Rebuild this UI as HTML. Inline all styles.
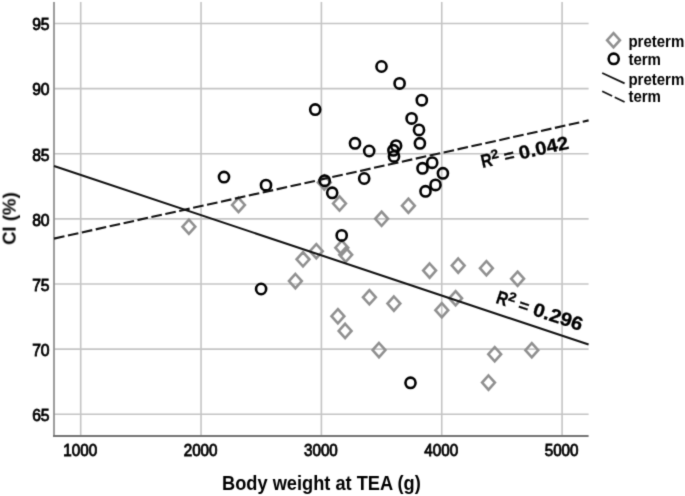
<!DOCTYPE html>
<html><head><meta charset="utf-8"><style>
html,body{margin:0;padding:0;background:#fff;}
body{width:685px;height:496px;overflow:hidden;font-family:"Liberation Sans",sans-serif;}
svg{display:block;}
</style></head><body>
<svg width="685" height="496" viewBox="0 0 685 496">
<defs><filter id="bl" x="0" y="0" width="685" height="496" filterUnits="userSpaceOnUse" color-interpolation-filters="sRGB"><feConvolveMatrix order="3" kernelMatrix="0.01917 0.10012 0.01917 0.10012 0.52283 0.10012 0.01917 0.10012 0.01917" divisor="1" edgeMode="duplicate"/></filter></defs>
<g filter="url(#bl)">
<rect width="685" height="496" fill="#fff"/>
<line x1="80.70" y1="2.0" x2="80.70" y2="435.5" stroke="#c4c4c4" stroke-width="1.6"/>
<line x1="201.05" y1="2.0" x2="201.05" y2="435.5" stroke="#c4c4c4" stroke-width="1.6"/>
<line x1="321.40" y1="2.0" x2="321.40" y2="435.5" stroke="#c4c4c4" stroke-width="1.6"/>
<line x1="441.75" y1="2.0" x2="441.75" y2="435.5" stroke="#c4c4c4" stroke-width="1.6"/>
<line x1="562.10" y1="2.0" x2="562.10" y2="435.5" stroke="#c4c4c4" stroke-width="1.6"/>
<line x1="54.0" y1="414.22" x2="588.6" y2="414.22" stroke="#c4c4c4" stroke-width="1.6"/>
<line x1="54.0" y1="349.10" x2="588.6" y2="349.10" stroke="#c4c4c4" stroke-width="1.6"/>
<line x1="54.0" y1="283.98" x2="588.6" y2="283.98" stroke="#c4c4c4" stroke-width="1.6"/>
<line x1="54.0" y1="218.86" x2="588.6" y2="218.86" stroke="#c4c4c4" stroke-width="1.6"/>
<line x1="54.0" y1="153.74" x2="588.6" y2="153.74" stroke="#c4c4c4" stroke-width="1.6"/>
<line x1="54.0" y1="88.62" x2="588.6" y2="88.62" stroke="#c4c4c4" stroke-width="1.6"/>
<line x1="54.0" y1="23.50" x2="588.6" y2="23.50" stroke="#c4c4c4" stroke-width="1.6"/>
<line x1="54.0" y1="2.0" x2="54.0" y2="436.5" stroke="#8e8e8e" stroke-width="1.75"/>
<line x1="53.0" y1="436.0" x2="588.6" y2="436.0" stroke="#747474" stroke-width="2.0"/>
<path d="M188.9 219.6L195.3 226.7L188.9 233.8L182.5 226.7Z" fill="none" stroke="#909090" stroke-width="2.6"/>
<path d="M238.5 197.8L244.9 204.9L238.5 212.0L232.1 204.9Z" fill="none" stroke="#909090" stroke-width="2.6"/>
<path d="M324.3 175.4L330.7 182.5L324.3 189.6L317.9 182.5Z" fill="none" stroke="#909090" stroke-width="2.6"/>
<path d="M303.0 252.2L309.4 259.3L303.0 266.4L296.6 259.3Z" fill="none" stroke="#909090" stroke-width="2.6"/>
<path d="M316.3 244.1L322.7 251.2L316.3 258.3L309.9 251.2Z" fill="none" stroke="#909090" stroke-width="2.6"/>
<path d="M295.4 274.0L301.8 281.1L295.4 288.2L289.0 281.1Z" fill="none" stroke="#909090" stroke-width="2.6"/>
<path d="M341.8 240.6L348.2 247.7L341.8 254.8L335.4 247.7Z" fill="none" stroke="#909090" stroke-width="2.6"/>
<path d="M345.7 247.7L352.1 254.8L345.7 261.9L339.3 254.8Z" fill="none" stroke="#909090" stroke-width="2.6"/>
<path d="M339.5 196.4L345.9 203.5L339.5 210.6L333.1 203.5Z" fill="none" stroke="#909090" stroke-width="2.6"/>
<path d="M337.9 309.1L344.3 316.2L337.9 323.3L331.5 316.2Z" fill="none" stroke="#909090" stroke-width="2.6"/>
<path d="M345.1 323.8L351.5 330.9L345.1 338.0L338.7 330.9Z" fill="none" stroke="#909090" stroke-width="2.6"/>
<path d="M369.4 290.2L375.8 297.3L369.4 304.4L363.0 297.3Z" fill="none" stroke="#909090" stroke-width="2.6"/>
<path d="M379.0 343.0L385.4 350.1L379.0 357.2L372.6 350.1Z" fill="none" stroke="#909090" stroke-width="2.6"/>
<path d="M381.6 211.7L388.0 218.8L381.6 225.9L375.2 218.8Z" fill="none" stroke="#909090" stroke-width="2.6"/>
<path d="M408.4 198.6L414.8 205.7L408.4 212.8L402.0 205.7Z" fill="none" stroke="#909090" stroke-width="2.6"/>
<path d="M393.9 296.5L400.3 303.6L393.9 310.7L387.5 303.6Z" fill="none" stroke="#909090" stroke-width="2.6"/>
<path d="M429.6 263.5L436.0 270.6L429.6 277.7L423.2 270.6Z" fill="none" stroke="#909090" stroke-width="2.6"/>
<path d="M441.8 303.1L448.2 310.2L441.8 317.3L435.4 310.2Z" fill="none" stroke="#909090" stroke-width="2.6"/>
<path d="M455.6 291.2L462.0 298.3L455.6 305.4L449.2 298.3Z" fill="none" stroke="#909090" stroke-width="2.6"/>
<path d="M458.2 258.5L464.6 265.6L458.2 272.7L451.8 265.6Z" fill="none" stroke="#909090" stroke-width="2.6"/>
<path d="M486.4 261.1L492.8 268.2L486.4 275.3L480.0 268.2Z" fill="none" stroke="#909090" stroke-width="2.6"/>
<path d="M517.6 271.6L524.0 278.7L517.6 285.8L511.2 278.7Z" fill="none" stroke="#909090" stroke-width="2.6"/>
<path d="M494.7 347.1L501.1 354.2L494.7 361.3L488.3 354.2Z" fill="none" stroke="#909090" stroke-width="2.6"/>
<path d="M531.8 343.1L538.2 350.2L531.8 357.3L525.4 350.2Z" fill="none" stroke="#909090" stroke-width="2.6"/>
<path d="M488.5 375.5L494.9 382.6L488.5 389.7L482.1 382.6Z" fill="none" stroke="#909090" stroke-width="2.6"/>
<ellipse cx="224.0" cy="177.1" rx="5.05" ry="5.2" fill="none" stroke="#000" stroke-width="2.6"/>
<ellipse cx="266.0" cy="185.2" rx="5.05" ry="5.2" fill="none" stroke="#000" stroke-width="2.6"/>
<ellipse cx="315.2" cy="109.6" rx="5.05" ry="5.2" fill="none" stroke="#000" stroke-width="2.6"/>
<ellipse cx="355.0" cy="143.3" rx="5.05" ry="5.2" fill="none" stroke="#000" stroke-width="2.6"/>
<ellipse cx="369.2" cy="151.0" rx="5.05" ry="5.2" fill="none" stroke="#000" stroke-width="2.6"/>
<ellipse cx="364.2" cy="178.5" rx="5.05" ry="5.2" fill="none" stroke="#000" stroke-width="2.6"/>
<ellipse cx="324.7" cy="180.7" rx="5.05" ry="5.2" fill="none" stroke="#000" stroke-width="2.6"/>
<ellipse cx="332.2" cy="192.8" rx="5.05" ry="5.2" fill="none" stroke="#000" stroke-width="2.6"/>
<ellipse cx="341.7" cy="235.4" rx="5.05" ry="5.2" fill="none" stroke="#000" stroke-width="2.6"/>
<ellipse cx="261.1" cy="289.0" rx="5.05" ry="5.2" fill="none" stroke="#000" stroke-width="2.6"/>
<ellipse cx="410.5" cy="382.8" rx="5.05" ry="5.2" fill="none" stroke="#000" stroke-width="2.6"/>
<ellipse cx="396.1" cy="145.7" rx="5.05" ry="5.2" fill="none" stroke="#000" stroke-width="2.6"/>
<ellipse cx="393.4" cy="150.3" rx="5.05" ry="5.2" fill="none" stroke="#000" stroke-width="2.6"/>
<ellipse cx="394.0" cy="156.4" rx="5.05" ry="5.2" fill="none" stroke="#000" stroke-width="2.6"/>
<ellipse cx="381.5" cy="66.5" rx="5.05" ry="5.2" fill="none" stroke="#000" stroke-width="2.6"/>
<ellipse cx="399.6" cy="83.4" rx="5.05" ry="5.2" fill="none" stroke="#000" stroke-width="2.6"/>
<ellipse cx="421.8" cy="100.2" rx="5.05" ry="5.2" fill="none" stroke="#000" stroke-width="2.6"/>
<ellipse cx="411.6" cy="118.4" rx="5.05" ry="5.2" fill="none" stroke="#000" stroke-width="2.6"/>
<ellipse cx="419.0" cy="129.9" rx="5.05" ry="5.2" fill="none" stroke="#000" stroke-width="2.6"/>
<ellipse cx="419.9" cy="143.3" rx="5.05" ry="5.2" fill="none" stroke="#000" stroke-width="2.6"/>
<ellipse cx="432.2" cy="162.7" rx="5.05" ry="5.2" fill="none" stroke="#000" stroke-width="2.6"/>
<ellipse cx="422.5" cy="168.3" rx="5.05" ry="5.2" fill="none" stroke="#000" stroke-width="2.6"/>
<ellipse cx="442.9" cy="173.3" rx="5.05" ry="5.2" fill="none" stroke="#000" stroke-width="2.6"/>
<ellipse cx="435.5" cy="184.9" rx="5.05" ry="5.2" fill="none" stroke="#000" stroke-width="2.6"/>
<ellipse cx="425.5" cy="191.3" rx="5.05" ry="5.2" fill="none" stroke="#000" stroke-width="2.6"/>
<line x1="54.0" y1="166.1" x2="588.6" y2="344.5" stroke="#111" stroke-width="2.1"/>
<line x1="54.0" y1="238.6" x2="588.6" y2="120.4" stroke="#111" stroke-width="2.1" stroke-dasharray="10.7 3.55"/>
<g transform="translate(483.5,167.7) rotate(-12.6)"><text transform="translate(-1.07,0) scale(0.82,1)" font-family="Liberation Sans" font-weight="bold" stroke="#000" stroke-width="0.3" font-size="18.8">R</text><text transform="translate(10.0,-6.4) scale(1.08,1)" font-family="Liberation Sans" font-weight="bold" stroke="#000" stroke-width="0.3" font-size="12.8">2</text><text transform="translate(22.30,-0.6) scale(1.08,1)" font-family="Liberation Sans" font-weight="bold" stroke="#000" stroke-width="0.3" font-size="16.5">=</text><text transform="translate(37.60,0) scale(1.08,1)" font-family="Liberation Sans" font-weight="bold" stroke="#000" stroke-width="0.3" font-size="18.8">0.042</text></g>
<g transform="translate(496.0,303.0) rotate(18.4)"><text transform="translate(-1.07,0) scale(0.82,1)" font-family="Liberation Sans" font-weight="bold" stroke="#000" stroke-width="0.3" font-size="19.0">R</text><text transform="translate(10.0,-6.4) scale(1.08,1)" font-family="Liberation Sans" font-weight="bold" stroke="#000" stroke-width="0.3" font-size="12.8">2</text><text transform="translate(22.30,-0.6) scale(1.08,1)" font-family="Liberation Sans" font-weight="bold" stroke="#000" stroke-width="0.3" font-size="16.5">=</text><text transform="translate(37.60,0) scale(1.08,1)" font-family="Liberation Sans" font-weight="bold" stroke="#000" stroke-width="0.3" font-size="19.0">0.296</text></g>
<text x="49.6" y="421.0" text-anchor="end" font-family="Liberation Sans" font-size="15.7" stroke="#000" stroke-width="0.8">65</text>
<text x="49.6" y="355.9" text-anchor="end" font-family="Liberation Sans" font-size="15.7" stroke="#000" stroke-width="0.8">70</text>
<text x="49.6" y="290.8" text-anchor="end" font-family="Liberation Sans" font-size="15.7" stroke="#000" stroke-width="0.8">75</text>
<text x="49.6" y="225.7" text-anchor="end" font-family="Liberation Sans" font-size="15.7" stroke="#000" stroke-width="0.8">80</text>
<text x="49.6" y="160.5" text-anchor="end" font-family="Liberation Sans" font-size="15.7" stroke="#000" stroke-width="0.8">85</text>
<text x="49.6" y="95.4" text-anchor="end" font-family="Liberation Sans" font-size="15.7" stroke="#000" stroke-width="0.8">90</text>
<text x="49.6" y="30.3" text-anchor="end" font-family="Liberation Sans" font-size="15.7" stroke="#000" stroke-width="0.8">95</text>
<text transform="translate(80.2,455.6) scale(0.97,1)" text-anchor="middle" font-family="Liberation Sans" font-size="15.7" stroke="#000" stroke-width="0.8">1000</text>
<text transform="translate(200.6,455.6) scale(0.97,1)" text-anchor="middle" font-family="Liberation Sans" font-size="15.7" stroke="#000" stroke-width="0.8">2000</text>
<text transform="translate(320.9,455.6) scale(0.97,1)" text-anchor="middle" font-family="Liberation Sans" font-size="15.7" stroke="#000" stroke-width="0.8">3000</text>
<text transform="translate(441.2,455.6) scale(0.97,1)" text-anchor="middle" font-family="Liberation Sans" font-size="15.7" stroke="#000" stroke-width="0.8">4000</text>
<text transform="translate(561.6,455.6) scale(0.97,1)" text-anchor="middle" font-family="Liberation Sans" font-size="15.7" stroke="#000" stroke-width="0.8">5000</text>
<text transform="translate(321.4,489.5) scale(0.912,1)" text-anchor="middle" font-family="Liberation Sans" font-weight="bold" font-size="20.0">Body weight at TEA (g)</text>
<text transform="translate(15.6,218.6) rotate(-90)" text-anchor="middle" font-family="Liberation Sans" font-weight="bold" font-size="18.6">CI (%)</text>
<path d="M613.5 33.1L619.9 40.2L613.5 47.3L607.1 40.2Z" fill="none" stroke="#909090" stroke-width="2.6"/>
<ellipse cx="613.7" cy="58.8" rx="5.05" ry="5.2" fill="none" stroke="#000" stroke-width="2.6"/>
<line x1="602.2" y1="73.0" x2="624.6" y2="83.4" stroke="#111" stroke-width="1.8"/>
<line x1="602.2" y1="91.2" x2="624.6" y2="102.0" stroke="#111" stroke-width="1.8" stroke-dasharray="11 2.9"/>
<text transform="translate(628.4,46.9) scale(0.91,1)" font-family="Liberation Sans" font-weight="bold" font-size="16.5">preterm</text>
<text transform="translate(628.4,65.0) scale(0.91,1)" font-family="Liberation Sans" font-weight="bold" font-size="16.5">term</text>
<text transform="translate(628.4,84.5) scale(0.91,1)" font-family="Liberation Sans" font-weight="bold" font-size="16.5">preterm</text>
<text transform="translate(628.4,102.4) scale(0.91,1)" font-family="Liberation Sans" font-weight="bold" font-size="16.5">term</text>
</g>
</svg>
</body></html>
